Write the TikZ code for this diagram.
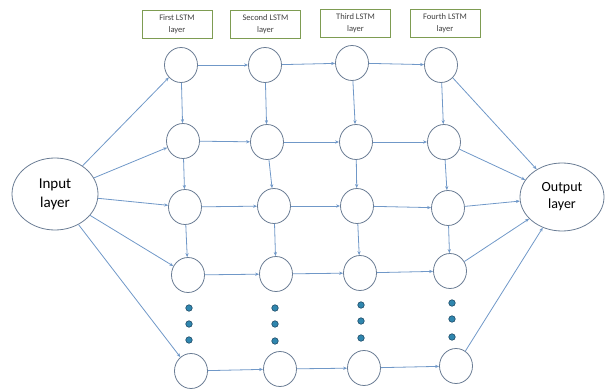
\documentclass[tikz,border=0pt]{standalone}
\usepackage{fontspec}
\setmainfont{Carlito}
\usetikzlibrary{shapes.geometric,arrows.meta}
\definecolor{arrowc}{HTML}{7098C8}
\definecolor{circc}{HTML}{6A7C94}
\definecolor{boxc}{HTML}{7E9C52}
\definecolor{dotfill}{HTML}{2F86AE}
\definecolor{dotedge}{HTML}{1E4A66}
\definecolor{txtc}{HTML}{404040}
\tikzset{
  cell/.style={ellipse,draw=circc,line width=0.8pt,minimum width=33pt,minimum height=35pt,inner sep=0pt},
  bigcell/.style={ellipse,draw=circc,line width=0.8pt,inner sep=0pt,text=black,align=center},
  labelbox/.style={draw=boxc,line width=0.8pt,minimum width=70pt,minimum height=28pt,inner sep=0pt,font=\fontsize{8.5}{12}\selectfont,text=txtc,align=center},
  dotnode/.style={circle,fill=dotfill,draw=dotedge,line width=0.6pt,minimum size=6.5pt,inner sep=0pt},
  conn/.style={draw=arrowc,line width=0.8pt,-{Stealth[length=4pt,width=3.2pt]}}
}
\begin{document}
\begin{tikzpicture}[x=1pt,y=-1pt]
\useasboundingbox (0,0) rectangle (607,390);
% labels
\node[labelbox] (b1) at (177,24.5) {First LSTM\\layer};
\node[labelbox] (b2) at (265.5,24) {Second LSTM\\layer};
\node[labelbox] (b3) at (355.5,23) {Third LSTM\\layer};
\node[labelbox] (b4) at (445,23) {Fourth LSTM\\layer};
% input/output
\node[bigcell,minimum width=86pt,minimum height=72pt,font=\fontsize{15}{19}\selectfont] (in) at (55,194) {Input\\layer};
\node[bigcell,minimum width=84pt,minimum height=68pt,font=\fontsize{14}{17}\selectfont] (out) at (562,197) {Output\\layer};
% cells
\node[cell] (c11) at (181,65) {};
\node[cell] (c12) at (265,65) {};
\node[cell] (c13) at (352,63) {};
\node[cell] (c14) at (441,65) {};
\node[cell] (c21) at (183,141) {};
\node[cell] (c22) at (267,142) {};
\node[cell] (c23) at (356,142) {};
\node[cell] (c24) at (444,142) {};
\node[cell] (c31) at (185,207) {};
\node[cell] (c32) at (274,206) {};
\node[cell] (c33) at (357,206) {};
\node[cell] (c34) at (448,208) {};
\node[cell] (c41) at (188,275) {};
\node[cell] (c42) at (276,274) {};
\node[cell] (c43) at (360,273) {};
\node[cell] (c44) at (450,271) {};
\node[cell] (c51) at (191,371) {};
\node[cell] (c52) at (280,369) {};
\node[cell] (c53) at (364,368) {};
\node[cell] (c54) at (456,366) {};
% dots
\node[dotnode] (d11) at (189,308) {};
\node[dotnode] (d12) at (189,324) {};
\node[dotnode] (d13) at (189,340) {};
\node[dotnode] (d21) at (275,308) {};
\node[dotnode] (d22) at (275,324) {};
\node[dotnode] (d23) at (275,341) {};
\node[dotnode] (d31) at (361,305) {};
\node[dotnode] (d32) at (361,321) {};
\node[dotnode] (d33) at (361,338) {};
\node[dotnode] (d41) at (452,303) {};
\node[dotnode] (d42) at (452,319) {};
\node[dotnode] (d43) at (452,337) {};
% input connections
\foreach \r in {1,...,5} { \draw[conn] (in) -- (c\r1); }
% horizontal
\foreach \r in {1,...,5} {
  \draw[conn] (c\r1) -- (c\r2);
  \draw[conn] (c\r2) -- (c\r3);
  \draw[conn] (c\r3) -- (c\r4);
}
% vertical
\foreach \c in {1,...,4} {
  \draw[conn] (c1\c) -- (c2\c);
  \draw[conn] (c2\c) -- (c3\c);
  \draw[conn] (c3\c) -- (c4\c);
}
% output connections
\foreach \r in {1,...,5} { \draw[conn] (c\r4) -- (out); }
\end{tikzpicture}
\end{document}
